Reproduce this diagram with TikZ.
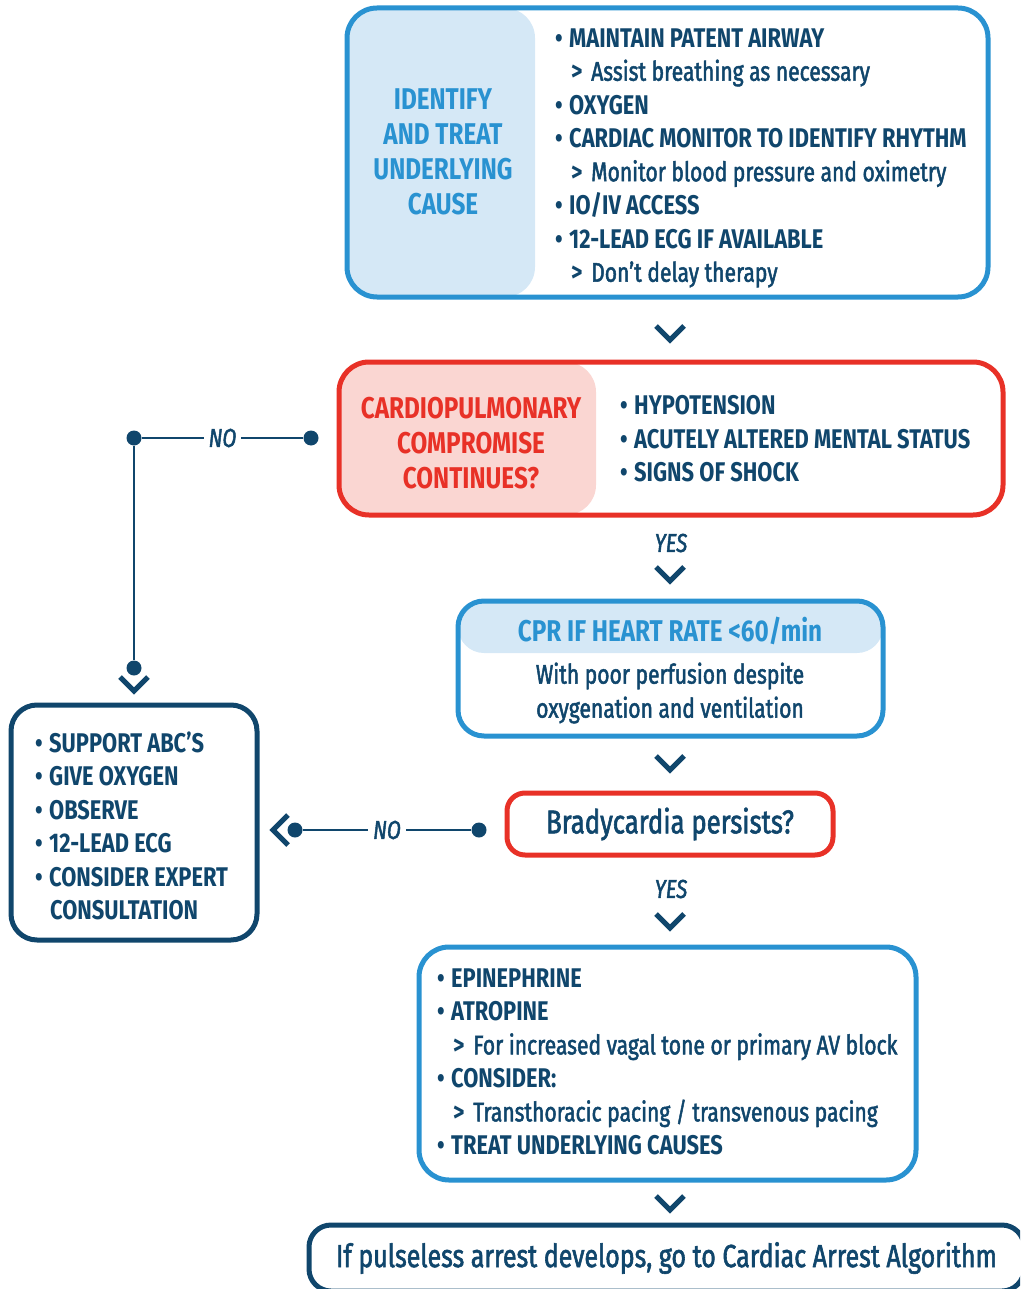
\documentclass[tikz,border=0pt]{standalone}
\usepackage{fontspec}
\setmainfont{Fira Sans}[FakeStretch=0.81]
\newfontfamily\medium{Fira Sans}[FakeStretch=0.78, FakeBold=1.8]
\usetikzlibrary{positioning,calc}
\definecolor{AHAnavy}{RGB}{16,70,108}
\definecolor{AHAblue}{RGB}{41,146,209}
\definecolor{AHAblue5}{RGB}{213,232,246}
\definecolor{AHAred}{RGB}{232,49,39}
\definecolor{AHAred5}{RGB}{250,214,210}
\newcommand{\itm}[1]{\makebox[14pt][l]{\textbullet}#1}
\newcommand{\subitm}[1]{\hspace*{16pt}\makebox[20pt][l]{>}{\medium\mdseries #1}}
\newcommand{\downchev}[1]{\draw[chev] ([shift={(-14,-7)}]#1) -- ([shift={(0,7)}]#1) -- ([shift={(14,-7)}]#1);}
\tikzset{
  box/.style={rectangle, line width=5pt, inner sep=0pt},
  listtext/.style={font=\fontsize{27}{33.5}\selectfont\bfseries, text=AHAnavy, align=left, inner sep=0pt},
  headtext/.style={font=\fontsize{30}{35}\selectfont\bfseries, align=center, inner sep=0pt},
  plaintext/.style={font=\fontsize{27}{34}\selectfont\medium, text=AHAnavy, align=center, inner sep=0pt},
  chev/.style={draw=AHAnavy, line width=5pt, miter limit=10},
  dot/.style={circle, fill=AHAnavy, inner sep=0pt, minimum size=15pt},
  link/.style={draw=AHAnavy, line width=2.5pt},
  answer/.style={font=\fontsize{26}{30}\selectfont\medium\itshape, text=AHAnavy, fill=white, inner sep=5pt},
}
\begin{document}
\begin{tikzpicture}[x=1pt, y=-1pt]
\path[use as bounding box, clip] (0,0) rectangle (1020,1289);
%Identify and treat
\node[box, draw=AHAblue, rounded corners=30pt, minimum width=641pt, minimum height=289pt,
  path picture={\fill[AHAblue5] (path picture bounding box.north west) rectangle ([xshift=188pt]path picture bounding box.south west);}]
  (identify) at (667.5,152.5) {};
\node[headtext, text=AHAblue] (identifyhead) at (443,152) {IDENTIFY\\AND TREAT\\UNDERLYING\\CAUSE};
\node[listtext, anchor=west] (identifylist) at (555,158) {\itm{MAINTAIN PATENT AIRWAY}\\ \subitm{Assist breathing as necessary}\\ \itm{OXYGEN}\\ \itm{CARDIAC MONITOR TO IDENTIFY RHYTHM}\\ \subitm{Monitor blood pressure and oximetry}\\ \itm{IO/IV ACCESS}\\ \itm{12-LEAD ECG IF AVAILABLE}\\ \subitm{Don’t delay therapy}};
\coordinate (chev1) at (670,333);
\downchev{chev1}
%Cardiopulmonary compromise
\node[box, draw=AHAred, rounded corners=30pt, minimum width=664pt, minimum height=153pt,
  path picture={\fill[AHAred5] (path picture bounding box.north west) rectangle ([xshift=257pt]path picture bounding box.south west);}]
  (cardio) at (671,438.5) {};
\node[headtext, text=AHAred] (cardiohead) at (471,443) {CARDIOPULMONARY\\COMPROMISE\\CONTINUES?};
\node[listtext, anchor=west] (cardiolist) at (620,439) {\itm{HYPOTENSION}\\ \itm{ACUTELY ALTERED MENTAL STATUS}\\ \itm{SIGNS OF SHOCK}};
%No branch 1
\node[dot] (no1a) at (311,438) {};
\node[dot] (no1b) at (134,438) {};
\node[dot] (no1c) at (134,668) {};
\draw[link] (no1a) -- node[answer] {NO} (no1b) -- (no1c);
\coordinate (chevno1) at (134,684);
\downchev{chevno1}
\node[answer] (yes1) at (671,543) {YES};
\coordinate (chev2) at (670,574);
\downchev{chev2}
%CPR
\node[box, draw=AHAblue, rounded corners=26pt, minimum width=425pt, minimum height=135pt,
  path picture={\fill[AHAblue5] (path picture bounding box.north west) rectangle ([yshift=-52pt]path picture bounding box.north east);}]
  (cpr) at (670.5,668.5) {};
\node[headtext, text=AHAblue] (cprhead) at (670,631) {CPR IF HEART RATE <60/min};
\node[plaintext] (cprtext) at (670,693) {With poor perfusion despite\\oxygenation and ventilation};
\coordinate (chev3) at (670,763);
\downchev{chev3}
%Bradycardia persists
\node[box, draw=AHAred, rounded corners=18pt, minimum width=326pt, minimum height=62pt,
  font=\fontsize{33}{38}\selectfont\medium, text=AHAnavy] (brady) at (670,824) {Bradycardia persists?};
%No branch 2
\node[dot] (no2a) at (479,830) {};
\node[dot] (no2b) at (295,830) {};
\draw[link] (no2a) -- node[answer] {NO} (no2b);
\draw[chev] (288,815) -- (273,830) -- (288,845);
%Supportive care
\node[box, draw=AHAnavy, rounded corners=26pt, minimum width=246pt, minimum height=235pt] (support) at (134,822.5) {};
\node[listtext, anchor=west] (supportlist) at (35,826) {\itm{SUPPORT ABC’S}\\ \itm{GIVE OXYGEN}\\ \itm{OBSERVE}\\ \itm{12-LEAD ECG}\\ \itm{CONSIDER EXPERT}\\ \hspace*{15pt}CONSULTATION};
\node[answer] (yes2) at (671,889) {YES};
\coordinate (chev4) at (670,921);
\downchev{chev4}
%Drugs and pacing
\node[box, draw=AHAblue, rounded corners=30pt, minimum width=497pt, minimum height=233pt] (drugs) at (667.5,1063.5) {};
\node[listtext, anchor=west] (drugslist) at (437,1062) {\itm{EPINEPHRINE}\\ \itm{ATROPINE}\\ \subitm{For increased vagal tone or primary AV block}\\ \itm{CONSIDER:}\\ \subitm{Transthoracic pacing / transvenous pacing}\\ \itm{TREAT UNDERLYING CAUSES}};
\coordinate (chev5) at (670,1203);
\downchev{chev5}
%Pulseless arrest
\node[box, draw=AHAnavy, rounded corners=22pt, minimum width=715pt, minimum height=66pt,
  font=\fontsize{32}{37}\selectfont\medium, text=AHAnavy] (pulseless) at (666.5,1258) {If pulseless arrest develops, go to Cardiac Arrest Algorithm};
\end{tikzpicture}
\end{document}
